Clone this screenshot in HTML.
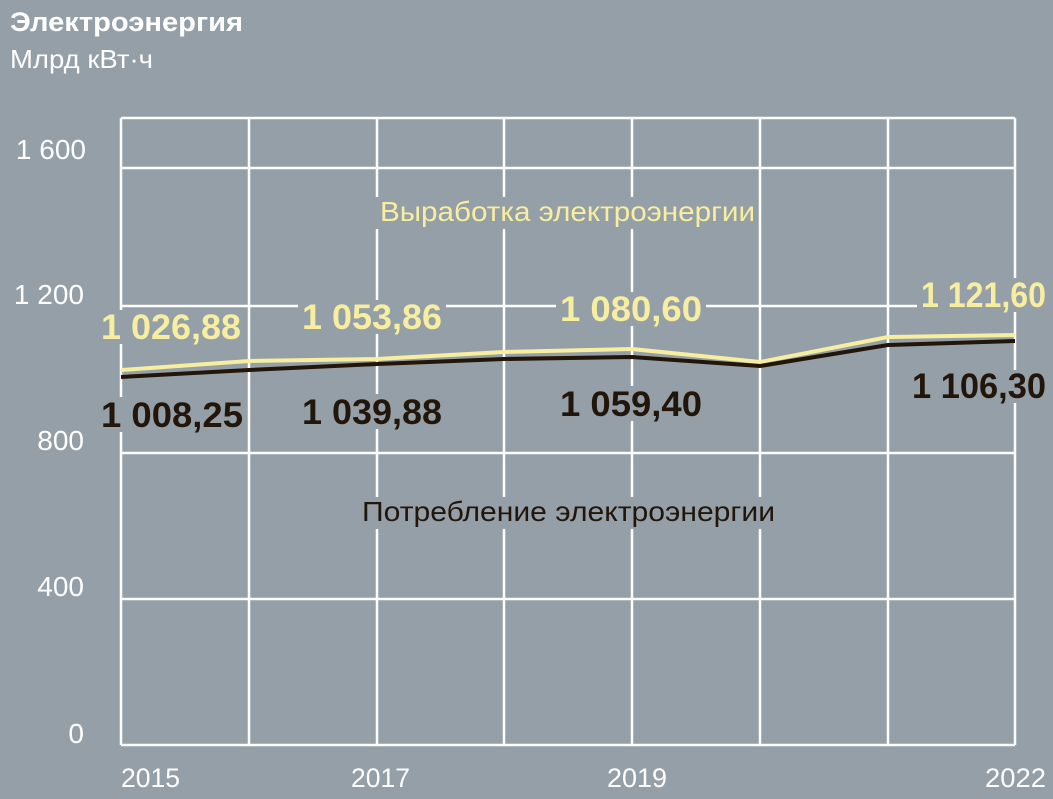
<!DOCTYPE html>
<html><head><meta charset="utf-8"><style>
html,body{margin:0;padding:0;background:#949fa8;}
svg{display:block;font-family:"Liberation Sans",sans-serif;}
</style></head><body>
<svg width="1053" height="799" viewBox="0 0 1053 799">
<rect width="1053" height="799" fill="#949fa8"/>
<text x="10" y="31" font-size="27" font-weight="bold" fill="#fff" textLength="233" lengthAdjust="spacingAndGlyphs">Электроэнергия</text>
<text x="10" y="68" font-size="26" fill="#fff" textLength="143" lengthAdjust="spacingAndGlyphs">Млрд кВт·ч</text>
<g stroke="#fff" stroke-width="2.5" fill="none">
<line x1="121" y1="118" x2="1015" y2="118"/>
<line x1="121" y1="168" x2="1015" y2="168"/>
<line x1="121" y1="306" x2="1015" y2="306"/>
<line x1="121" y1="453" x2="1015" y2="453"/>
<line x1="121" y1="599" x2="1015" y2="599"/>
<line x1="121" y1="745" x2="1015" y2="745"/>
<line x1="121" y1="118" x2="121" y2="745"/>
<line x1="249" y1="118" x2="249" y2="745"/>
<line x1="377" y1="118" x2="377" y2="745"/>
<line x1="504" y1="118" x2="504" y2="745"/>
<line x1="632" y1="118" x2="632" y2="745"/>
<line x1="760" y1="118" x2="760" y2="745"/>
<line x1="888" y1="118" x2="888" y2="745"/>
<line x1="1015" y1="118" x2="1015" y2="745"/>
</g>
<g font-size="28" fill="#fff" text-anchor="end">
<text x="86" y="159">1 600</text>
<text x="84" y="304">1 200</text>
<text x="84" y="450">800</text>
<text x="84" y="596">400</text>
<text x="84" y="743">0</text>
</g>
<g font-size="27" fill="#fff">
<text x="121" y="787" textLength="59" lengthAdjust="spacingAndGlyphs">2015</text>
<text x="351" y="787" textLength="59" lengthAdjust="spacingAndGlyphs">2017</text>
<text x="607" y="787" textLength="60" lengthAdjust="spacingAndGlyphs">2019</text>
<text x="985" y="787" textLength="61" lengthAdjust="spacingAndGlyphs">2022</text>
</g>
<g fill="#949fa8">
<rect x="97" y="310" width="148" height="34"/>
<rect x="298" y="300" width="148" height="34"/>
<rect x="556" y="292" width="150" height="34"/>
<rect x="917" y="278" width="133" height="34"/>
<rect x="97" y="397" width="150" height="35"/>
<rect x="298" y="394" width="148" height="35"/>
<rect x="556" y="386" width="150" height="35"/>
<rect x="908" y="370" width="142" height="33"/>
<rect x="374" y="197" width="384" height="32"/>
<rect x="358" y="497" width="421" height="32"/>
</g>
<polyline points="121,370 249,361 377,359 504,352 632,349 760,362 888,337 1015,335" fill="none" stroke="#f7ee9f" stroke-width="4"/>
<polyline points="121,377 249,370 377,364 504,359 632,357 760,366 888,345 1015,341" fill="none" stroke="#221509" stroke-width="4"/>
<g font-size="35" font-weight="bold" fill="#f7ee9f">
<text x="101" y="339" textLength="140" lengthAdjust="spacingAndGlyphs">1 026,88</text>
<text x="302" y="329" textLength="140" lengthAdjust="spacingAndGlyphs">1 053,86</text>
<text x="560" y="321" textLength="142" lengthAdjust="spacingAndGlyphs">1 080,60</text>
<text x="921" y="307" textLength="125" lengthAdjust="spacingAndGlyphs">1 121,60</text>
</g>
<g font-size="35" font-weight="bold" fill="#221509">
<text x="101" y="427" textLength="142" lengthAdjust="spacingAndGlyphs">1 008,25</text>
<text x="302" y="424" textLength="140" lengthAdjust="spacingAndGlyphs">1 039,88</text>
<text x="560" y="416" textLength="142" lengthAdjust="spacingAndGlyphs">1 059,40</text>
<text x="912" y="398" textLength="134" lengthAdjust="spacingAndGlyphs">1 106,30</text>
</g>
<text x="380" y="221" font-size="28" fill="#f7ee9f" textLength="375" lengthAdjust="spacingAndGlyphs">Выработка электроэнергии</text>
<text x="362" y="521" font-size="28" fill="#221509" textLength="413" lengthAdjust="spacingAndGlyphs">Потребление электроэнергии</text>
</svg>
</body></html>
